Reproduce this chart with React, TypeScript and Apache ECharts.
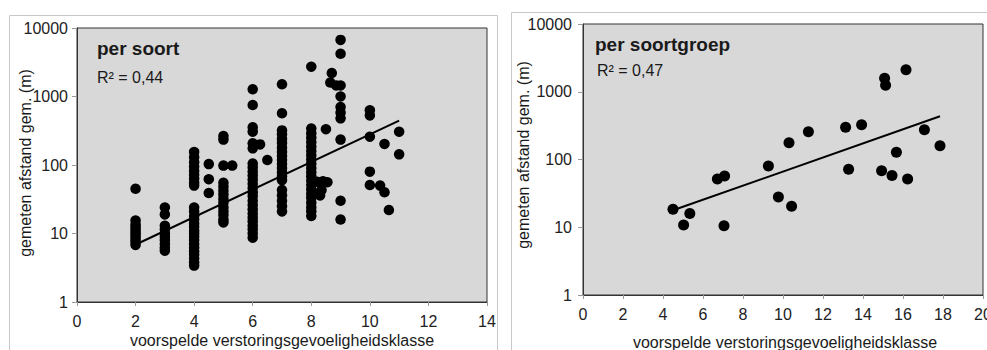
import React, { useEffect, useRef } from "react";
import * as echarts from "echarts";

// ---- data: "per soort" (x = voorspelde klasse, y = gemeten afstand, m)
const soortKlasse2: [number, number][] = [
  [2, 45], [2, 6.8], [2, 7.5], [2, 8.2], [2, 9], [2, 9.8], [2, 10.6], [2, 11.5], [2, 12.5], [2, 13.6], [2, 15.5],
];
const soortKlasse3: [number, number][] = [
  [3, 24], [3, 19], [3, 13], [3, 11.5], [3, 10], [3, 9], [3, 8], [3, 7], [3, 6.2], [3, 5.6],
];
const soortKlasse4: [number, number][] = [
  [4, 155], [4, 130], [4, 110], [4, 95], [4, 82], [4, 72], [4, 63], [4, 55], [4, 50],
  [4, 24], [4, 21], [4, 18], [4, 16], [4, 14], [4, 12.5], [4, 11], [4, 10], [4, 9], [4, 8], [4, 7],
  [4, 6.2], [4, 5.5], [4, 4.9], [4, 4.3], [4, 3.8], [4, 3.4],
  [4.5, 103], [4.5, 62], [4.5, 39],
];
const soortKlasse5: [number, number][] = [
  [5, 265], [5, 235], [5, 98], [5.3, 98],
  [5, 55], [5, 48], [5, 42], [5, 37], [5, 32], [5, 28], [5, 24], [5, 21], [5, 18.5], [5, 16], [5, 14.5],
];
const soortKlasse6: [number, number][] = [
  [6, 1274], [6, 751], [6, 355], [6, 306], [6, 207], [6, 175],
  [6, 105], [6, 92], [6, 80], [6, 70], [6, 61], [6, 53], [6, 46], [6, 40], [6, 35], [6, 30], [6, 26],
  [6, 22.5], [6, 19.5], [6, 17], [6, 15], [6, 13], [6, 11.5], [6, 10], [6, 8.7],
  [6.25, 200], [6.5, 118],
];
const soortKlasse7: [number, number][] = [
  [7, 1507], [7, 568], [7, 320], [7, 280], [7, 240], [7, 210], [7, 180], [7, 155], [7, 135], [7, 118],
  [7, 103], [7, 90], [7, 78], [7, 68], [7, 60], [7, 43], [7, 36], [7, 30], [7, 25], [7, 21],
];
const soortKlasse8: [number, number][] = [
  [8, 2723], [8, 340], [8, 290], [8, 250], [8, 215], [8, 185], [8, 160], [8, 138], [8, 120], [8, 104],
  [8, 90], [8, 78], [8, 68], [8, 59], [8, 51], [8, 44], [8, 38], [8, 33], [8, 28], [8, 24], [8, 21], [8, 18],
  [8.5, 333], [8.2, 57], [8.4, 58], [8.55, 56], [8.35, 43], [8.15, 38], [8.3, 36],
  [8.7, 2200], [8.65, 1600], [8.85, 1450],
];
const soortKlasse9: [number, number][] = [
  [9, 6700], [9, 4200], [9, 1450], [9, 1000], [9, 700], [9, 580], [9, 480], [9, 235], [9, 30], [9, 16],
];
const soortKlasse10: [number, number][] = [
  [10, 630], [10, 530], [10, 259], [10, 80], [10, 51],
  [10.35, 50], [10.5, 203], [10.5, 40], [10.65, 22],
  [11, 306], [11, 143],
];
const perSoort = [
  ...soortKlasse2, ...soortKlasse3, ...soortKlasse4, ...soortKlasse5, ...soortKlasse6,
  ...soortKlasse7, ...soortKlasse8, ...soortKlasse9, ...soortKlasse10,
];
const perSoortTrend: [number, number][] = [[2.1, 7.2], [11, 445]];

// ---- data: "per soortgroep"
const perSoortgroep: [number, number][] = [
  [4.5, 18.4], [5.03, 10.8], [5.34, 15.9], [6.72, 51.5], [7.08, 57], [7.05, 10.5],
  [9.27, 80], [9.77, 28], [10.3, 177], [10.43, 20.4], [11.27, 257],
  [13.13, 299], [13.28, 72], [13.93, 326], [14.93, 68], [15.08, 1580], [15.13, 1245],
  [15.45, 58], [15.67, 128], [16.15, 2120], [16.23, 51.5], [17.07, 275], [17.85, 160],
];
const perSoortgroepTrend: [number, number][] = [[4.5, 17.8], [17.85, 434]];

const titles = ["per soort", "per soortgroep"];
const r2Labels = ["R² = 0,44", "R² = 0,47"];
const xName = "voorspelde verstoringsgevoeligheidsklasse";
const yName = "gemeten afstand gem. (m)";

const FONT = "'Liberation Sans', Arial, sans-serif";

export default function App() {
  const ref = useRef<HTMLDivElement>(null);
  useEffect(() => {
    if (!ref.current) return;
    const chart = echarts.init(ref.current, null, { renderer: "svg" });
    const xAxisBase = (gridIndex: number, max: number) => ({
      gridIndex,
      type: "value",
      min: 0,
      max,
      interval: 2,
      axisLine: { show: true, onZero: false, lineStyle: { color: "#333", width: 1 } },
      axisTick: { show: true, length: 4, lineStyle: { color: "#999" } },
      axisLabel: { fontSize: 16, color: "#222", fontFamily: FONT, margin: 11, hideOverlap: false },
      splitLine: { show: false },
    });
    const yAxisBase = (gridIndex: number, margin: number) => ({
      gridIndex,
      type: "log",
      logBase: 10,
      min: 1,
      max: 10000,
      axisLine: { show: true, lineStyle: { color: "#333", width: 1 } },
      axisTick: { show: true, length: 5, lineStyle: { color: "#999" } },
      axisLabel: {
        fontSize: 16,
        color: "#222",
        fontFamily: FONT,
        margin,
        formatter: (v: number) => String(Math.round(v)),
      },
      splitLine: { show: false },
      minorTick: { show: false },
    });
    const scatter = (idx: number, data: [number, number][], size: number) => ({
      type: "scatter",
      xAxisIndex: idx,
      yAxisIndex: idx,
      data,
      symbol: "circle",
      symbolSize: size,
      itemStyle: { color: "#000", opacity: 1 },
      z: 2,
    });
    const trend = (idx: number, data: [number, number][]) => ({
      type: "line",
      xAxisIndex: idx,
      yAxisIndex: idx,
      data,
      symbol: "none",
      lineStyle: { color: "#000", width: 2 },
      z: 3,
    });
    const txt = (x: number, y: number, text: string, size: number, bold = false, extra: any = {}) => ({
      type: "text",
      x,
      y,
      z: 10,
      style: {
        text,
        fontSize: size,
        fontWeight: bold ? "bold" : "normal",
        fontFamily: FONT,
        fill: "#1a1a1a",
        ...extra,
      },
    });
    chart.setOption({
      animation: false,
      backgroundColor: "#fff",
      grid: [
        { left: 77, top: 28, width: 410, height: 274, show: true, backgroundColor: "#d8d8d8", borderColor: "#333", borderWidth: 1, containLabel: false, outerBoundsMode: "none" },
        { left: 583, top: 24, width: 400, height: 271, show: true, backgroundColor: "#d8d8d8", borderColor: "#333", borderWidth: 1, containLabel: false, outerBoundsMode: "none" },
      ],
      xAxis: [xAxisBase(0, 14), xAxisBase(1, 20)],
      yAxis: [yAxisBase(0, 9), yAxisBase(1, 11)],
      series: [
        scatter(0, perSoort, 10.5),
        trend(0, perSoortTrend),
        scatter(1, perSoortgroep, 11),
        trend(1, perSoortgroepTrend),
      ],
      graphic: [
        { type: "rect", shape: { x: 9.5, y: 15.5, width: 488, height: 345 }, style: { fill: "none", stroke: "#c8c8c8", lineWidth: 1 }, z: -1 },
        { type: "rect", shape: { x: 511.5, y: 12.5, width: 490, height: 345 }, style: { fill: "none", stroke: "#c8c8c8", lineWidth: 1 }, z: -1 },
        txt(97, 48, titles[0], 19, true, { verticalAlign: "middle" }),
        txt(97, 77, r2Labels[0], 16, false, { verticalAlign: "middle" }),
        txt(595, 44, titles[1], 19, true, { verticalAlign: "middle" }),
        txt(597, 70, r2Labels[1], 16, false, { verticalAlign: "middle" }),
        txt(282, 340, xName, 16, false, { align: "center", verticalAlign: "middle" }),
        txt(785, 342, xName, 16, false, { align: "center", verticalAlign: "middle" }),
        { ...txt(25, 163, yName, 16, false, { align: "center", verticalAlign: "middle" }), rotation: Math.PI / 2 },
        { ...txt(523, 155, yName, 16, false, { align: "center", verticalAlign: "middle" }), rotation: Math.PI / 2 },
      ],
    });
    return () => chart.dispose();
  }, []);
  return (
    <div
      ref={ref}
      style={{ position: "absolute", left: 0, top: 0, width: 987, height: 350 }}
    />
  );
}
